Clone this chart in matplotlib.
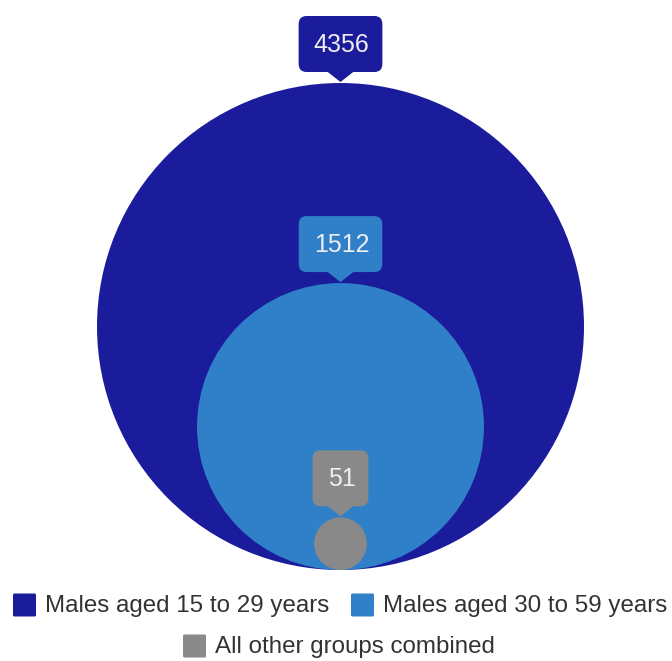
import matplotlib
matplotlib.use("Agg")
import matplotlib.pyplot as plt
from matplotlib.patches import Circle, FancyBboxPatch, Polygon, Rectangle
import numpy as np

categories = ["Males aged 15 to 29 years", "Males aged 30 to 59 years", "All other groups combined"]
values = [4356, 1512, 51]
colors = ["#1b1c9b", "#2f7fc9", "#898989"]

plt.rcParams['font.family'] = ['Liberation Sans', 'DejaVu Sans']

W, H = 672, 661
fig = plt.figure(figsize=(W / 100, H / 100), dpi=100)
ax = fig.add_axes([0, 0, 1, 1])
ax.set_xlim(0, W)
ax.set_ylim(H, 0)
ax.set_aspect('equal')
ax.axis('off')

R_MAX = 243.5
CX = 340.5
BOTTOM = 570.0
vmax = max(values)

fig.canvas.draw()
renderer = fig.canvas.get_renderer()

for v, c in zip(values, colors):
    r = R_MAX * np.sqrt(v / vmax)
    cy = BOTTOM - r
    ax.add_patch(Circle((CX, cy), r, facecolor=c, edgecolor='none', zorder=1))

for i, (v, c) in enumerate(zip(values, colors)):
    r = R_MAX * np.sqrt(v / vmax)
    top = BOTTOM - 2 * r
    tip = top - 1
    box_bottom = tip - 10
    box_h = 56
    box_cy = box_bottom - box_h / 2
    t = ax.text(CX + 1, box_cy + 1, str(v), ha='center', va='center', fontsize=18,
                color='#eeeeee', zorder=5)
    bb = t.get_window_extent(renderer)
    tw = bb.width
    box_w = tw + 28
    ax.add_patch(FancyBboxPatch((CX - box_w / 2 + 8, box_bottom - box_h + 8), box_w - 16, box_h - 16,
                                boxstyle="round,pad=8", facecolor=c, edgecolor='none', zorder=4))
    ax.add_patch(Polygon([(CX - 14, box_bottom - 1), (CX + 14, box_bottom - 1), (CX, tip)],
                         closed=True, facecolor=c, edgecolor='none', zorder=4))

# legend (manual layout: two entries on row 1, one centered on row 2)
def legend_item(x, y, color, label):
    ax.add_patch(FancyBboxPatch((x + 1.5, y - 10), 20, 20, boxstyle="round,pad=1.5",
                                facecolor=color, edgecolor='none'))
    ax.text(x + 32, y + 1, label, ha='left', va='center', fontsize=17.4, color='#333333')

legend_item(13, 605, colors[0], categories[0])
legend_item(351, 605, colors[1], categories[1])
legend_item(183, 646, colors[2], categories[2])

fig.savefig("out.png", dpi=100, facecolor='white')
